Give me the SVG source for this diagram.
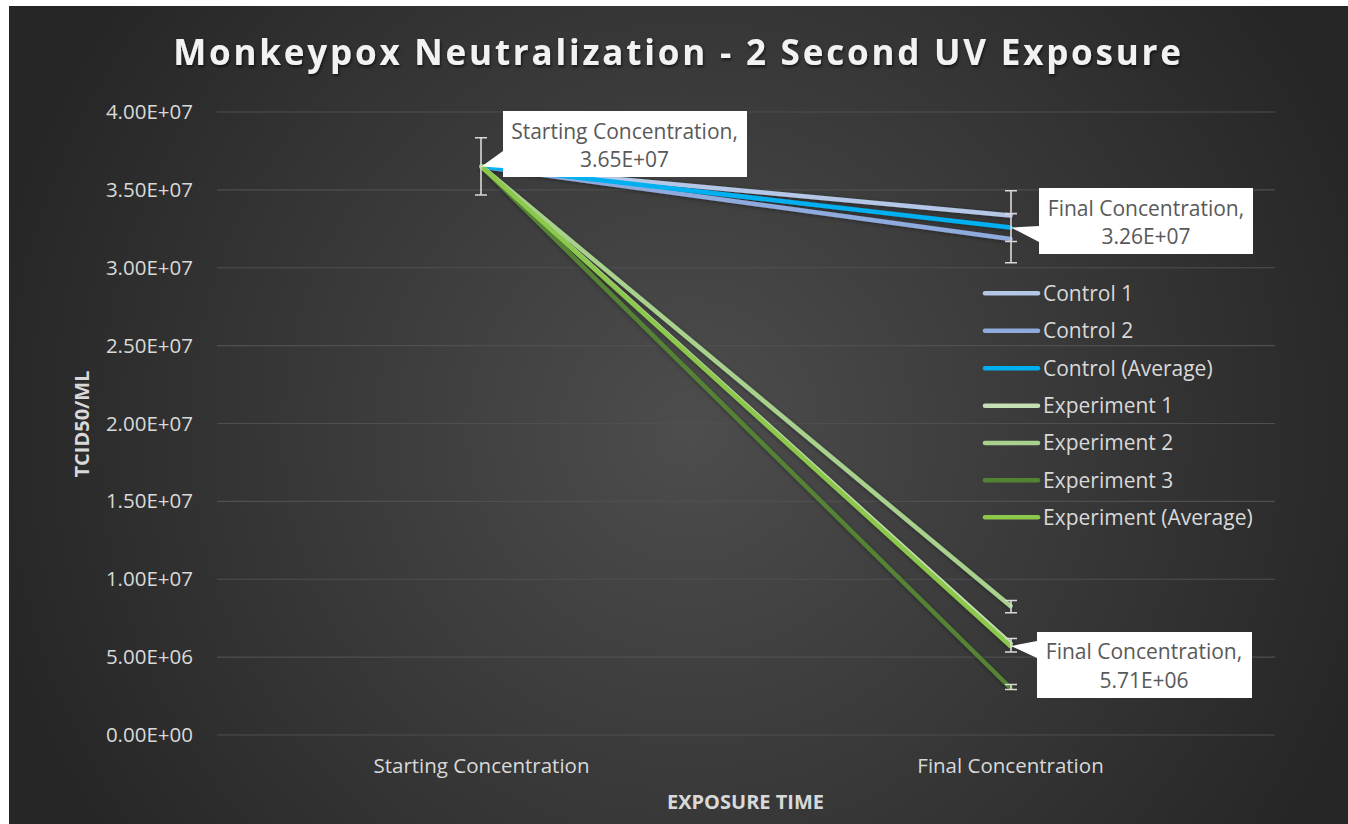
<svg xmlns="http://www.w3.org/2000/svg" width="1348" height="824" viewBox="0 0 1348 824">
  <defs>
    <radialGradient id="bg" cx="690" cy="430" r="720" gradientUnits="userSpaceOnUse">
      <stop offset="0" stop-color="#4d4d4d"/>
      <stop offset="1" stop-color="#262626"/>
    </radialGradient>
    <filter id="tshadow" x="-5%" y="-30%" width="110%" height="160%">
      <feDropShadow dx="1" dy="2" stdDeviation="1.5" flood-color="#000" flood-opacity="0.6"/>
    </filter>
    <filter id="lshadow" x="-10%" y="-10%" width="120%" height="120%">
      <feDropShadow dx="0" dy="1" stdDeviation="2" flood-color="#000" flood-opacity="0.4"/>
    </filter>
    <style>
      text { font-family: "Open Sans", "Noto Sans", "Liberation Sans", sans-serif; }
      .grid { stroke: #4f4f4f; stroke-width: 1.2; }
      .ylab { fill: #d9d9d9; font-size: 20.5px; text-anchor: end; }
      .xlab { fill: #d9d9d9; font-size: 20.5px; text-anchor: middle; }
      .atitle { fill: #d9d9d9; font-size: 20px; font-weight: bold; text-anchor: middle; }
      .series { fill: none; stroke-width: 4.5; stroke-linecap: round; }
      .err { stroke: #d9d9d9; stroke-width: 1.6; fill: none; }
      .callout { fill: #ffffff; }
      .ctext { fill: #595959; font-size: 21px; text-anchor: middle; }
      .legtext { fill: #d9d9d9; font-size: 21px; }
      .legline { stroke-width: 4.5; stroke-linecap: round; }
    </style>
  </defs>

  <rect x="0" y="0" width="1348" height="824" fill="#ffffff"/>
  <rect x="9" y="6" width="1339" height="818" fill="url(#bg)"/>

  <g id="title">
    <text x="678.5" y="65" fill="#f2f2f2" font-size="35px" font-weight="bold" text-anchor="middle" letter-spacing="2.8" filter="url(#tshadow)">Monkeypox Neutralization - 2 Second UV Exposure</text>
  </g>

  <g id="gridlines">
    <line class="grid" x1="217" y1="112" x2="1275" y2="112"/>
    <line class="grid" x1="217" y1="189.9" x2="1275" y2="189.9"/>
    <line class="grid" x1="217" y1="267.75" x2="1275" y2="267.75"/>
    <line class="grid" x1="217" y1="345.6" x2="1275" y2="345.6"/>
    <line class="grid" x1="217" y1="423.5" x2="1275" y2="423.5"/>
    <line class="grid" x1="217" y1="501.4" x2="1275" y2="501.4"/>
    <line class="grid" x1="217" y1="579.25" x2="1275" y2="579.25"/>
    <line class="grid" x1="217" y1="657.1" x2="1275" y2="657.1"/>
    <line class="grid" x1="217" y1="735" x2="1275" y2="735"/>
  </g>

  <g id="y-axis">
    <text class="ylab" x="193" y="119">4.00E+07</text>
    <text class="ylab" x="193" y="197">3.50E+07</text>
    <text class="ylab" x="193" y="275">3.00E+07</text>
    <text class="ylab" x="193" y="352.6">2.50E+07</text>
    <text class="ylab" x="193" y="430.5">2.00E+07</text>
    <text class="ylab" x="193" y="508.4">1.50E+07</text>
    <text class="ylab" x="193" y="586.25">1.00E+07</text>
    <text class="ylab" x="193" y="664.1">5.00E+06</text>
    <text class="ylab" x="193" y="742">0.00E+00</text>
    <text class="atitle" transform="translate(89,424) rotate(-90)">TCID50/ML</text>
  </g>

  <g id="x-axis">
    <text class="xlab" x="481.5" y="773">Starting Concentration</text>
    <text class="xlab" x="1010.5" y="773">Final Concentration</text>
    <text class="atitle" x="745.5" y="809">EXPOSURE TIME</text>
  </g>

  <g id="connectors" filter="url(#lshadow)">
    <line id="control-1" class="series" stroke="#b4c7e7" x1="481.5" y1="166.5" x2="1010.5" y2="215.5"/>
    <line id="control-2" class="series" stroke="#8faadc" x1="481.5" y1="166.5" x2="1010.5" y2="239"/>
    <line id="control-avg" class="series" stroke="#00b0f0" x1="481.5" y1="166.5" x2="1010.5" y2="227.5"/>
    <line id="experiment-1" class="series" stroke="#c5e0b4" x1="481.5" y1="166.5" x2="1010.5" y2="643.5"/>
    <line id="experiment-2" class="series" stroke="#a9d18e" x1="481.5" y1="166.5" x2="1010.5" y2="606"/>
    <line id="experiment-3" class="series" stroke="#548235" x1="481.5" y1="166.5" x2="1010.5" y2="688"/>
    <line id="experiment-avg" class="series" stroke="#8cc84b" x1="481.5" y1="166.5" x2="1010.5" y2="646"/>
  </g>

  <g id="error-bars">
    <path class="err" d="M481,137.7 V195 M475,137.7 H487 M475,195 H487"/>
    <path class="err" d="M1011,190.7 V262.7 M1005,190.7 H1017 M1005,262.7 H1017 M1005,213.6 H1017 M1005,241.5 H1017"/>
    <path class="err" d="M1011,600.5 V612.7 M1005,600.5 H1017 M1005,612.7 H1017"/>
    <path class="err" d="M1011,638.5 V652 M1005,638.5 H1017 M1005,652 H1017"/>
    <path class="err" d="M1011,684.5 V690 M1005,684.5 H1017 M1005,689.5 H1017"/>
  </g>

  <g id="label-start">
    <path class="callout" d="M503,111 H747 V177 H503 V168 L481.5,166.5 L503,151 Z"/>
    <text class="ctext" x="624.5" y="139">Starting Concentration,</text>
    <text class="ctext" x="624.5" y="167">3.65E+07</text>
  </g>

  <g id="label-control-final">
    <path class="callout" d="M1039,188 H1253 V254 H1039 V242 L1011,227.5 L1039,226 Z"/>
    <text class="ctext" x="1146" y="216">Final Concentration,</text>
    <text class="ctext" x="1146" y="244">3.26E+07</text>
  </g>

  <g id="label-experiment-final">
    <path class="callout" d="M1037,632 H1252 V698 H1037 V658 L1011,646 L1037,641 Z"/>
    <text class="ctext" x="1144" y="659">Final Concentration,</text>
    <text class="ctext" x="1144" y="688">5.71E+06</text>
  </g>

  <g id="legend">
    <line class="legline" stroke="#b4c7e7" x1="985" y1="293.3" x2="1038" y2="293.3"/>
    <text class="legtext" x="1043" y="300.5">Control 1</text>
    <line class="legline" stroke="#8faadc" x1="985" y1="330.7" x2="1038" y2="330.7"/>
    <text class="legtext" x="1043" y="337.9">Control 2</text>
    <line class="legline" stroke="#00b0f0" x1="985" y1="368.3" x2="1038" y2="368.3"/>
    <text class="legtext" x="1043" y="375.5">Control (Average)</text>
    <line class="legline" stroke="#c5e0b4" x1="985" y1="405.7" x2="1038" y2="405.7"/>
    <text class="legtext" x="1043" y="412.9">Experiment 1</text>
    <line class="legline" stroke="#a9d18e" x1="985" y1="443" x2="1038" y2="443"/>
    <text class="legtext" x="1043" y="450.2">Experiment 2</text>
    <line class="legline" stroke="#548235" x1="985" y1="480.3" x2="1038" y2="480.3"/>
    <text class="legtext" x="1043" y="487.5">Experiment 3</text>
    <line class="legline" stroke="#8cc84b" x1="985" y1="517.3" x2="1038" y2="517.3"/>
    <text class="legtext" x="1043" y="524.5">Experiment (Average)</text>
  </g>
</svg>
